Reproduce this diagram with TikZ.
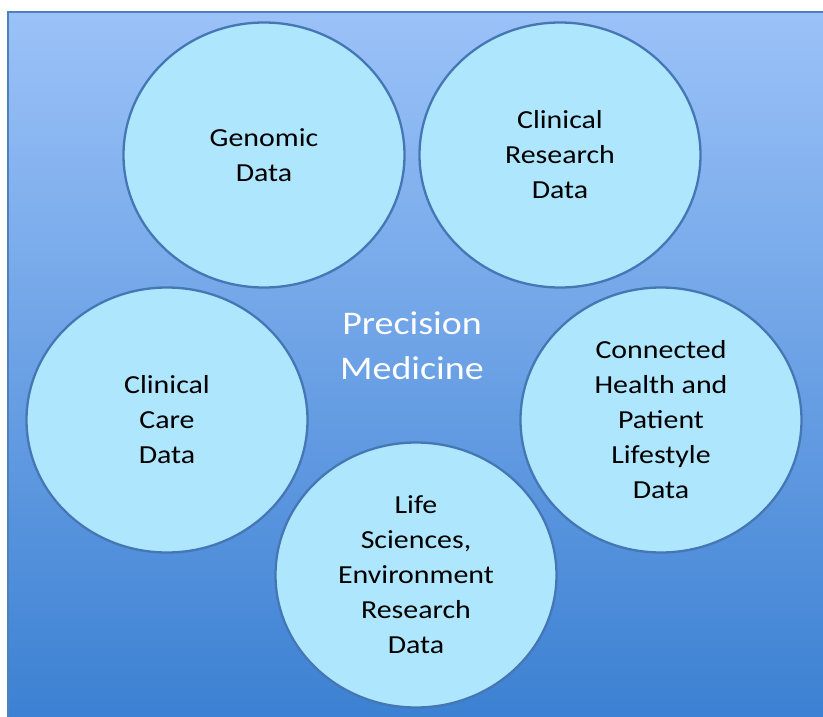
\documentclass[tikz,border=0pt]{standalone}
\usepackage{fontspec}
\newfontfamily\cfont[FakeStretch=1.15]{Carlito}
\usetikzlibrary{shapes.geometric}
\definecolor{bgtop}{HTML}{9BC2F8}
\definecolor{bgbot}{HTML}{3B80D2}
\definecolor{circfill}{HTML}{AEE6FD}
\definecolor{circline}{HTML}{4577B5}
\definecolor{frameline}{HTML}{4F81BD}
\tikzset{
  databubble/.style={ellipse, draw=circline, line width=2.3pt, fill=circfill,
    minimum width=281pt, minimum height=265pt, inner sep=0pt, align=center,
    font=\cfont\fontsize{26}{35}\selectfont, text=black},
  centertext/.style={align=center, text=white, font=\cfont\fontsize{33}{45}\selectfont}
}
\begin{document}
\begin{tikzpicture}[x=1pt,y=-1pt]
\useasboundingbox (0,0) rectangle (823,716);
\fill[white] (0,0) rectangle (823,716);
\shade[top color=bgtop, bottom color=bgbot] (8,12) rectangle (830,726);
\draw[frameline, line width=2pt] (830,12) -- (8,12) -- (8,726);
\node[centertext] (pm) at (412,346) {Precision\\Medicine};
\node[databubble] (gen) at (264,155) {Genomic\\Data};
\node[databubble] (crd) at (560,155) {Clinical\\Research\\Data};
\node[databubble] (ccd) at (167,420) {Clinical\\Care\\Data};
\node[databubble] (chd) at (661,420) {Connected\\Health and\\Patient\\Lifestyle\\Data};
\node[databubble] (lsd) at (416,575) {Life\\Sciences,\\Environment\\Research\\Data};
\end{tikzpicture}
\end{document}
